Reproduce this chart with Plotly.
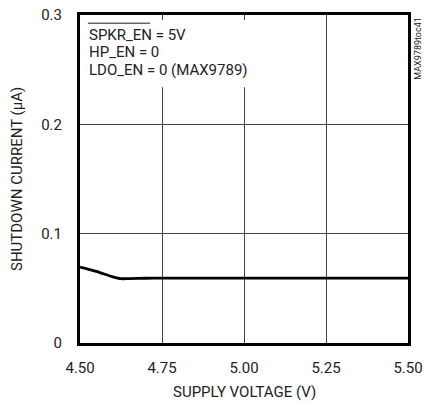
import plotly.graph_objects as go

voltage = [4.50, 4.55, 4.60, 4.625, 4.65, 4.70, 4.75, 5.00, 5.25, 5.50]
current = [0.0695, 0.0655, 0.0605, 0.0588, 0.0589, 0.0592, 0.0593, 0.0593, 0.0593, 0.0593]

x_ticks = [4.50, 4.75, 5.00, 5.25, 5.50]
x_tick_labels = ["4.50", "4.75", "5.00", "5.25", "5.50"]
y_ticks = [0, 0.1, 0.2, 0.3]
y_tick_labels = ["0", "0.1", "0.2", "0.3"]

note_lines = ["SPKR_EN = 5V", "HP_EN = 0", "LDO_EN = 0 (MAX9789)"]

FONT = "Roboto, Liberation Sans, sans-serif"
TXT = "#222"

fig = go.Figure()
fig.add_trace(go.Scatter(x=voltage, y=current, mode="lines",
                         line=dict(color="black", width=2.8, shape="spline", smoothing=0.6),
                         showlegend=False, hoverinfo="skip"))

axis_common = dict(showline=True, linecolor="black", linewidth=3, mirror=True,
                   showgrid=True, gridcolor="#444", gridwidth=1, zeroline=False,
                   ticks="", automargin=False,
                   tickfont=dict(size=15, color=TXT, family=FONT))

fig.update_layout(
    width=424, height=405,
    margin=dict(l=80, r=16, t=15, b=62),
    paper_bgcolor="white", plot_bgcolor="white",
    font=dict(family=FONT, color=TXT),
    xaxis=dict(range=[4.5, 5.5], tickvals=x_ticks, ticktext=x_tick_labels,
               ticklabelstandoff=9, **axis_common),
    yaxis=dict(range=[0, 0.3], tickvals=y_ticks, ticktext=y_tick_labels,
               ticklabelstandoff=12, **axis_common),
)

# axis titles
fig.add_annotation(xref="paper", yref="paper", x=0.5, y=-0.149, xanchor="center", yanchor="middle",
                   showarrow=False, text="SUPPLY VOLTAGE (V)",
                   font=dict(size=15, family=FONT, color=TXT))
fig.add_annotation(xref="paper", yref="paper", x=-0.192, y=0.5, xanchor="center", yanchor="middle",
                   showarrow=False, textangle=-90, text="SHUTDOWN CURRENT (µA)",
                   font=dict(size=15, family=FONT, color=TXT))

# white box behind the condition notes (hides grid lines)
fig.add_shape(type="rect", xref="paper", yref="paper", x0=0.012, x1=0.52, y0=0.78, y1=0.985,
              fillcolor="white", line=dict(width=0), layer="above")
note_y = [0.939, 0.886, 0.832]
for txt, yy in zip(note_lines, note_y):
    fig.add_annotation(xref="paper", yref="paper", x=0.022, y=yy, xanchor="left", yanchor="middle",
                       showarrow=False, text=txt, font=dict(size=15, family=FONT, color=TXT))
# overline over SPKR_EN
fig.add_shape(type="line", xref="paper", yref="paper", x0=0.024, x1=0.214, y0=0.975, y1=0.975,
              line=dict(color=TXT, width=1), layer="above")

fig.add_annotation(xref="paper", yref="paper", x=1.028, y=1.0, xanchor="center", yanchor="top",
                   textangle=-90, showarrow=False, text="MAX9789toc41",
                   font=dict(size=9, family=FONT, color=TXT))

fig.write_html("out.html", config={"displayModeBar": False},
               post_script="document.body.style.margin='0';document.body.style.overflow='hidden';")
